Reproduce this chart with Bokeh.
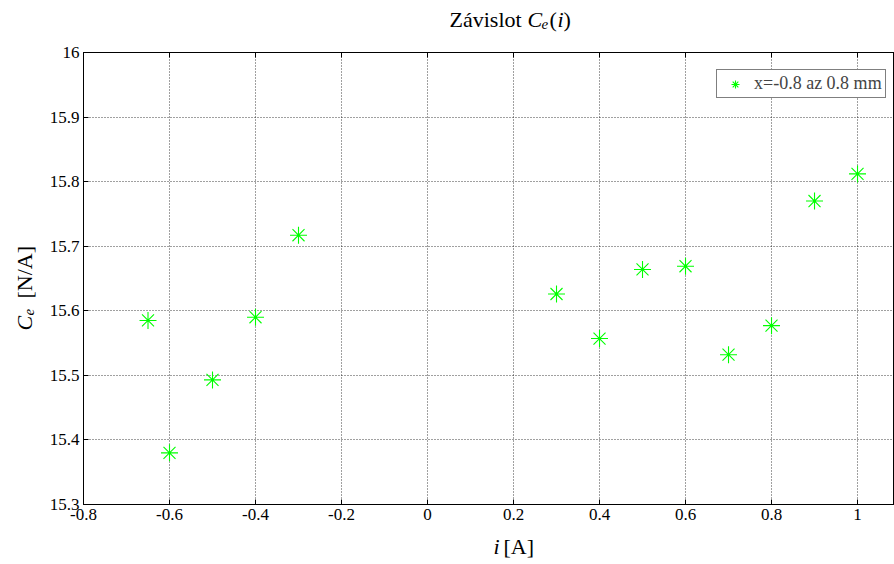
from bokeh.plotting import figure
from bokeh.layouts import column, row
from bokeh.models import (Range1d, LinearAxis, FixedTicker, Legend, LegendItem,
                          Label, CustomJSTickFormatter)
from bokeh.embed import file_html
from bokeh.resources import INLINE
import math

# ---- data ----
current_a = [-0.65, -0.6, -0.5, -0.4, -0.3, 0.3, 0.4, 0.5, 0.6, 0.7, 0.8, 0.9, 1.0]
ce_values = [15.585, 15.380, 15.493, 15.590, 15.717, 15.626, 15.557, 15.664,
             15.669, 15.532, 15.577, 15.770, 15.812]
x_ticks = [-0.8, -0.6, -0.4, -0.2, 0.0, 0.2, 0.4, 0.6, 0.8, 1.0]
y_ticks = [15.3, 15.4, 15.5, 15.6, 15.7, 15.8, 15.9, 16.0]
series_label = "x=-0.8 az 0.8 mm"

FONT = "Liberation Serif"


def strip(w, h):
    f = figure(width=w, height=h, output_backend="svg", toolbar_location=None,
               x_axis_type=None, y_axis_type=None, min_border=0,
               outline_line_color=None, background_fill_color="white",
               border_fill_color="white", x_range=Range1d(0, 1), y_range=Range1d(0, 1))
    f.grid.visible = False
    return f


def lab(f, text, x, y, style="normal", size="22px", angle=0.0):
    f.add_layout(Label(x=x, y=y, x_units="screen", y_units="screen", text=text,
                       text_font=FONT, text_font_size=size, text_font_style=style,
                       text_color="black", angle=angle, text_align="left",
                       text_baseline="middle"))


# ---- main plot ----
p = figure(width=854, height=494, output_backend="svg", toolbar_location=None,
           x_range=Range1d(-0.8, 1.086), y_range=Range1d(15.3, 16.0),
           min_border_left=43, min_border_right=0, min_border_top=12,
           min_border_bottom=30, background_fill_color="white",
           border_fill_color="white", outline_line_color="black")

fmt = CustomJSTickFormatter(code="return (Math.round(tick*10)/10).toString();")
blank = CustomJSTickFormatter(code="return '';")

for ax in (p.xaxis[0], p.yaxis[0]):
    ax.formatter = fmt
    ax.major_tick_in = 5
    ax.major_tick_out = 0
    ax.minor_tick_line_color = None
    ax.axis_line_color = "black"
    ax.major_tick_line_color = "black"
    ax.major_label_text_font = FONT
    ax.major_label_text_font_size = "17px"
    ax.major_label_text_color = "black"
p.xaxis[0].ticker = FixedTicker(ticks=x_ticks)
p.yaxis[0].ticker = FixedTicker(ticks=y_ticks)
p.xaxis[0].major_label_standoff = 4
p.yaxis[0].major_label_standoff = 4

top = LinearAxis(ticker=FixedTicker(ticks=x_ticks), formatter=blank,
                 major_tick_in=5, major_tick_out=0, minor_tick_line_color=None,
                 axis_line_color="black", major_label_text_font_size="1px",
                 major_label_standoff=0)
p.add_layout(top, "above")

for g, t in ((p.xgrid[0], x_ticks), (p.ygrid[0], y_ticks)):
    g.ticker = FixedTicker(ticks=t)
    g.grid_line_color = "black"
    g.grid_line_dash = "1 2"
    g.grid_line_alpha = 0.75

r = p.scatter(current_a, ce_values, marker="asterisk", size=17,
              line_color="#00ff00", line_width=1.1)

legend = Legend(items=[LegendItem(label=series_label, renderers=[r])],
                location=(633, 406), border_line_color="black",
                border_line_width=1, background_fill_color="white",
                background_fill_alpha=1, label_text_font=FONT,
                label_text_font_size="18px", glyph_width=30, glyph_height=20,
                padding=3, margin=0, spacing=0, label_standoff=4)
p.add_layout(legend)

# ---- title strip: Závislot C_e(i) ----
t = strip(894, 40)
lab(t, "Závislot", 449, 21)
lab(t, "C", 527, 21, "italic")
lab(t, "e", 541, 17, "italic", "15px")
lab(t, "(", 549, 21)
lab(t, "i", 557, 21, "italic")
lab(t, ")", 563, 21)

# ---- y label strip: C_e [N/A] ----
yl = strip(40, 494)
lab(yl, "C", 24, 174, "italic", "22px", math.pi / 2)
lab(yl, "e", 28, 189, "italic", "15px", math.pi / 2)
lab(yl, "[N/A]", 24, 206, "normal", "22px", math.pi / 2)

# ---- x label strip: i [A] ----
xl = strip(894, 30)
lab(xl, "i", 493, 18, "italic")
lab(xl, "[A]", 503, 18)

layout = column(t, row(yl, p, spacing=0), xl, spacing=0)
open("out.html", "w").write(file_html(layout, INLINE))
